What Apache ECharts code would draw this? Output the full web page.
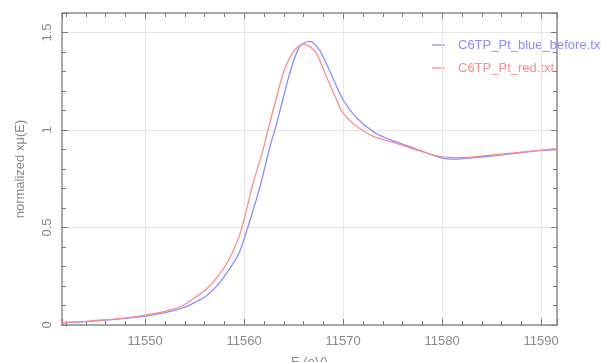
<!DOCTYPE html>
<html>
<head>
<meta charset="UTF-8">
<title>XANES</title>
<style>
  html, body { margin: 0; padding: 0; background: #fff; }
  #chart { width: 601px; height: 362px; }
</style>
</head>
<body>
<div id="chart"></div>
<script src="https://cdn.jsdelivr.net/npm/echarts@6/dist/echarts.min.js"></script>
<script>
// series names
var names = ['C6TP_Pt_blue_before.txt', 'C6TP_Pt_red.txt'];

// energy (eV) and normalized mu for the blue scan
var blueE = [11541.6, 11544, 11546, 11548, 11550, 11552, 11553.8, 11555, 11556.2, 11557.5,
  11558.8, 11559.5, 11560.3, 11561.6, 11562.6, 11563.1, 11563.9, 11564.6, 11565.6, 11566.6,
  11567.6, 11568.6, 11570, 11571.4, 11573.1, 11574.8, 11577, 11580, 11581.4, 11583,
  11585.4, 11588, 11590.1, 11591.6];
var blueMu = [0.011, 0.017, 0.025, 0.034, 0.045, 0.063, 0.088, 0.115, 0.15, 0.215,
  0.31, 0.37, 0.49, 0.709, 0.914, 1.0, 1.154, 1.29, 1.428, 1.454,
  1.41, 1.308, 1.154, 1.06, 0.99, 0.949, 0.91, 0.856, 0.851, 0.857,
  0.869, 0.884, 0.896, 0.90];

// energy (eV) and normalized mu for the red scan
var redE = [11541.6, 11544, 11546, 11548, 11550, 11552, 11553.8, 11555, 11556.2, 11557.3,
  11558.5, 11559.6, 11560.9, 11561.9, 11562.4, 11563.2, 11564, 11564.6, 11565.3, 11566.1,
  11566.7, 11567.3, 11568.3, 11569.2, 11570, 11571.4, 11573.1, 11574.8, 11577, 11580,
  11582, 11585.4, 11588, 11590.1, 11591.6];
var redMu = [0.012, 0.019, 0.027, 0.037, 0.051, 0.07, 0.10, 0.14, 0.185, 0.245,
  0.34, 0.47, 0.726, 0.897, 1.0, 1.154, 1.30, 1.37, 1.42, 1.44,
  1.425, 1.394, 1.274, 1.17, 1.086, 1.017, 0.966, 0.94, 0.905, 0.862,
  0.858, 0.874, 0.887, 0.897, 0.905];

var blueCol = '#8c8cff';
var redCol = '#ff8c8c';
var txtCol = '#8a8a8a';
var axCol = '#8f8f8f';
var tickCol = '#7a7a7a';
var font = 'Liberation Sans';

function pairs(xs, ys) {
  return xs.map(function (x, i) { return [x, ys[i]]; });
}

function xAx(pos, labels) {
  return {
    type: 'value', position: pos, min: 11541.6, max: 11591.6, splitNumber: 5,
    name: labels ? 'E (eV)' : '', nameLocation: 'middle', nameGap: 31,
    nameTextStyle: { color: txtCol, fontSize: 13, fontFamily: font },
    axisLine: { show: true, onZero: false, lineStyle: { color: axCol, width: 1.5 } },
    axisTick: { show: true, inside: true, length: 6, lineStyle: { color: tickCol, width: 1 } },
    minorTick: { show: true, splitNumber: 5, length: 4, lineStyle: { color: tickCol, width: 1 } },
    axisLabel: { show: labels, color: txtCol, fontSize: 13, fontFamily: font,
      showMinLabel: false, showMaxLabel: false, margin: 10,
      formatter: function (v) { return String(v); } },
    splitLine: { show: labels, lineStyle: { color: '#e6e6e6' } }
  };
}

function yAx(pos, labels) {
  return {
    type: 'value', position: pos, min: 0, max: 1.6, interval: 0.5,
    name: labels ? 'normalized x\u03bc(E)' : '', nameLocation: 'middle', nameGap: 35,
    nameTextStyle: { color: txtCol, fontSize: 13, fontFamily: font },
    axisLine: { show: true, onZero: false, lineStyle: { color: axCol, width: 1.5 } },
    axisTick: { show: true, inside: true, length: 6, lineStyle: { color: tickCol, width: 1 } },
    minorTick: { show: true, splitNumber: 5, length: 4, lineStyle: { color: tickCol, width: 1 } },
    axisLabel: { show: labels, color: txtCol, fontSize: 13, fontFamily: font,
      rotate: 90, showMaxLabel: false, margin: 8 },
    splitLine: { show: labels, lineStyle: { color: '#e6e6e6' } }
  };
}

// legend drawn as graphic so the long name may run past the edge like the original
var legendItems = [];
[[names[0], blueCol], [names[1], redCol]].forEach(function (it, i) {
  var y = 45 + i * 23;
  legendItems.push({ type: 'line', shape: { x1: 432, y1: y, x2: 445, y2: y },
    style: { stroke: it[1], lineWidth: 1.3 } });
  legendItems.push({ type: 'text', x: 458, y: y, style: { text: it[0], fill: it[1],
    font: '13px "Liberation Sans"', verticalAlign: 'middle' } });
});

var chart = echarts.init(document.getElementById('chart'));
chart.setOption({
  animation: false,
  grid: { left: 62, right: 44, top: 13, bottom: 37, outerBoundsMode: 'none' },
  graphic: legendItems,
  xAxis: [xAx('bottom', true), xAx('top', false)],
  yAxis: [yAx('left', true), yAx('right', false)],
  series: [
    {
      name: names[0], type: 'line', data: pairs(blueE, blueMu), symbol: 'none',
      smooth: 0.3, itemStyle: { color: blueCol }, lineStyle: { color: blueCol, width: 1.3 }
    },
    {
      name: names[1], type: 'line', data: pairs(redE, redMu), symbol: 'none',
      smooth: 0.3, itemStyle: { color: redCol }, lineStyle: { color: redCol, width: 1.3 }
    }
  ]
});
</script>
</body>
</html>
